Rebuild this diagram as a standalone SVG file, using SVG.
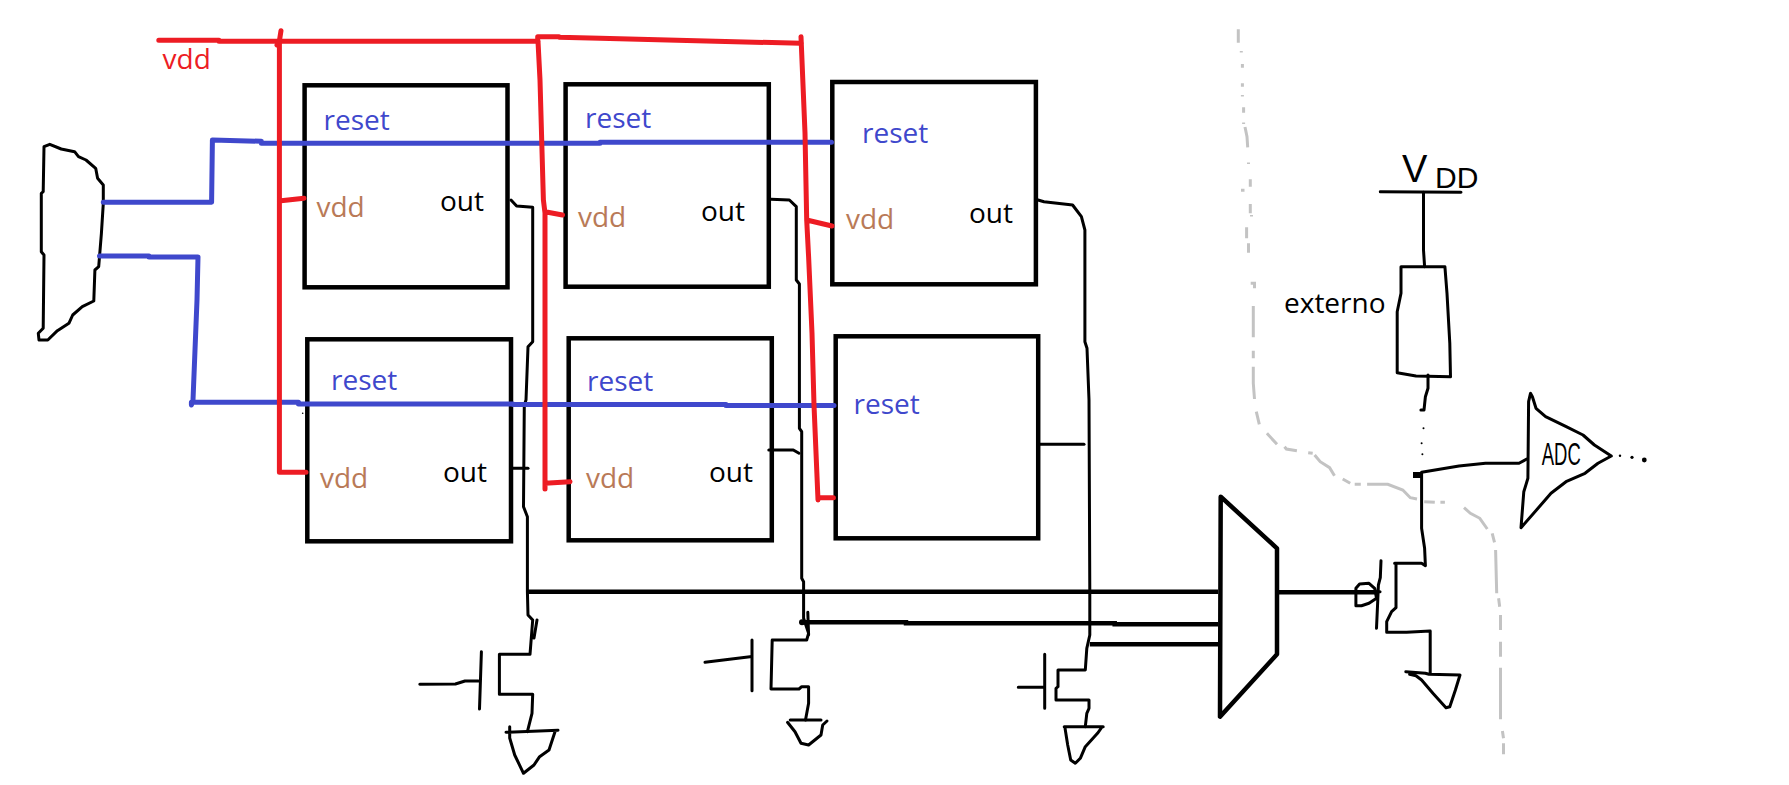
<svg xmlns="http://www.w3.org/2000/svg" width="1789" height="785" viewBox="0 0 1789 785">
<style>
text{font-family:"Open Sans","Noto Sans",sans-serif;font-size:28px}
.r{fill:#3f48cc}.v{fill:#b97a57}.o{fill:#000}.vr{fill:#ed1c24}
.box{fill:none;stroke:#000;stroke-width:4.5}
.th{fill:none;stroke:#000;stroke-width:3;stroke-linejoin:round;stroke-linecap:round}
.tk{fill:none;stroke:#000;stroke-width:4.5}
.red{fill:none;stroke:#ed1c24;stroke-width:5;stroke-linejoin:round;stroke-linecap:round}
.blue{fill:none;stroke:#3f48cc;stroke-width:5;stroke-linejoin:round;stroke-linecap:round}
.gr{fill:none;stroke:#c3c3c3;stroke-width:3}
.hand{font-family:"Liberation Sans",sans-serif;fill:#000}
</style>
<rect width="1789" height="785" fill="#fff"/>

<g id="boundary" class="gr">
<path d="M1238.3 29.3V42.7M1241.3 51V52.5M1242.4 64V67.7M1242.4 83.3V86.7M1242.4 95V96.5M1243.6 107.3V112.7M1243.6 122.6V124M1245 127L1247 136.7L1247.7 147.3M1248.5 162.6V164M1250.3 179.3V186.7M1241 190.3H1244.5M1250.3 204V213.3M1251.5 215V216.5M1246.6 227.3V238.3M1248.5 243.3V252.7M1250.7 283.3H1254.5V288.3M1253.3 306V337.3M1253.3 350.7V358.3M1253.3 366.7V383.3L1254.5 399M1256.3 411.7L1259.3 424.3M1266.9 433.3L1277 444.3M1284.5 446.7L1286.4 449L1296.9 450.7M1308.2 452.7L1312.7 453.3M1314.6 455L1320.2 461.7L1329.6 467.7L1334.5 475.7M1342.7 479L1350.2 483.3M1354.7 484.3H1360.8M1367.1 484.3H1387.8L1402.8 490L1410.3 497.7L1417 499M1424.2 501.7L1434.8 502.3M1440.4 502.3H1444.9M1464 507.7L1470.4 513.3L1479.8 518.3L1487.3 529M1492.2 533.3L1494.5 542.3M1495.6 550L1496.7 593.3M1498.6 598.3L1499.7 606.7M1500.5 615V630M1500.5 641.7V656.7M1500.5 667.7V719.3M1502.4 731L1503.5 738.3M1503.5 743.3V754.3"/>
</g>

<g id="decoder">
<path class="th" d="M49.8 144.3L44 146.7L43.2 191.7L41.3 193.3V251.7L44 255L43.2 328.3L38.3 333.3L39 340H47.8L57.4 330.7L68.9 323.3L72.7 315L82.3 306.7L93.8 301L94.9 270L98.7 266.7L101.4 233.3L103.3 203.3V185L97.6 178.3L95.7 168.3L86 160L78.5 156.7L74.6 151.7L61.2 149Z"/>
</g>

<g id="cell-1">
<rect class="box" x="304.6" y="85.3" width="202.9" height="202"/>
<text class="r" x="323.5" y="130">reset</text><text class="v" x="316.5" y="217">vdd</text><text class="o" x="440" y="211">out</text>
</g>
<g id="cell-2">
<rect class="box" x="565.6" y="84.3" width="203.2" height="202.4"/>
<text class="r" x="585" y="128">reset</text><text class="v" x="578" y="227">vdd</text><text class="o" x="701" y="221">out</text>
</g>
<g id="cell-3">
<rect class="box" x="832.3" y="82" width="203.6" height="202.3"/>
<text class="r" x="862" y="143">reset</text><text class="v" x="846" y="228.5">vdd</text><text class="o" x="969" y="223">out</text>
</g>
<g id="cell-4">
<rect class="box" x="307.3" y="339.3" width="203.7" height="202"/>
<text class="r" x="331" y="390">reset</text><text class="v" x="320" y="487.5">vdd</text><text class="o" x="443" y="482">out</text>
</g>
<g id="cell-5">
<rect class="box" x="568.7" y="338.3" width="203.1" height="202"/>
<text class="r" x="587" y="391">reset</text><text class="v" x="586" y="487.5">vdd</text><text class="o" x="709" y="482">out</text>
</g>
<g id="cell-6">
<rect class="box" x="835.7" y="336.3" width="202.5" height="202"/>
<text class="r" x="853.5" y="414">reset</text>
</g>

<g id="transistor-1">
<path class="th" d="M481.4 651.7L479.5 709M419.8 684.3L455.4 684L465 681L478.4 681"/>
</g>
<g id="ground-1">
<path class="th" d="M506 732.3L558 730.3M509.7 726.7V738L514.7 755L523.5 773.3L534 765L539.6 756.7L549 750L555 731.7"/>
</g>
<g id="transistor-2">
<path class="th" d="M752 640V690.7M705 662.3L750 656.7"/>
</g>
<g id="ground-2">
<path class="th" d="M790.2 720H821M787.5 722.3L795 731.7L801 743.3L808.6 745L821 735L822.7 725L827 721"/>
</g>
<g id="transistor-3">
<path class="th" d="M1044.7 654.3V708.3M1018.3 687.3H1044"/>
</g>
<g id="ground-3">
<path class="th" d="M1064.2 726.7H1103.2M1065 728L1067.7 745L1070.7 760L1075.3 763.3L1080.3 758.3L1085.3 746.7L1097.5 733.3L1102 727"/>
</g>

<g id="mux">
<path fill="none" stroke="#000" stroke-width="4.5" stroke-linejoin="round" d="M1220.7 496.7L1277 548.3V654.3L1220 716.7Z"/>
</g>

<g id="transistor-4">
<path class="th" d="M1355.9 605.7V588.3L1359.6 584L1369 583.3L1374.7 588.3L1376.5 598.3L1369 603.3L1361.5 605.7ZM1381 560.7L1380.3 577.7L1378.4 585L1377.7 601.7L1376.5 628.3"/>
</g>
<g id="ground-4">
<path class="th" d="M1405.8 671.7L1425.4 673.3L1429 674.3L1460 675L1455.4 690L1449.8 706.7L1446 707.7L1432.9 693.3L1421.6 680L1416 675.7L1409.6 674.3"/>
</g>
<g id="resistor">
<path class="th" d="M1401 266.7H1444.9L1447 293.3L1449.8 343.3L1450.5 376.7L1416 376L1397.2 372.7V311.7L1401 293.3Z"/>
<text x="1284" y="312.5" class="o">externo</text>
</g>
<g id="vdd-rail">
<path class="th" d="M1380.3 191.7L1461 192.3"/>
<text class="hand" x="1402" y="182" style="font-size:38px">V<tspan x="1435" y="188" style="font-size:30px">DD</tspan></text>
</g>
<g id="adc">
<path class="th" d="M1530.5 393.3L1528.6 401.7L1527.9 478.3L1523.8 491.7L1521 527.7L1538 508.3L1551 493.3L1566 481.7L1585 473.3L1598 463.3L1611.3 456L1594.4 445L1583 435L1566.2 426.7L1545.6 416.7L1536 408.3L1532.4 396.7Z"/>
<text class="hand" x="1541.8" y="465" style="font-size:32px" textLength="39" lengthAdjust="spacingAndGlyphs">ADC</text>
</g>
<text class="vr" x="162.6" y="68.5">vdd</text>

<g id="connectors">
<g id="wires-signal">
<path class="th" d="M511 200L516.6 206L532.7 207.3V341.7L528 346.7L526 400L524.3 405L523.5 506.7L527.4 516.7V591.7L528 615L532.7 620L530 654.3H499.4V694.3H532.7L532 713.3L527.4 731.7M537 620L534 638"/>
<path class="th" d="M512.8 468.3H528"/>
<path class="th" d="M771 199.3L789.4 200L796.3 206.7V280L799.4 284V428.3L801.7 431.7V578.3L803.6 581.7V618.3L808.6 633.3L806.7 640H772.2L771 689H799L801.7 686.7H808.6V703.3L805.5 720M807.8 612.3L808.6 635"/>
<path class="th" d="M768.8 450H793.3L799 453.3"/>
<path class="th" d="M1038 200L1044 201.7L1072.6 205L1081.4 216.7L1084.9 230V341.7L1087 348.3L1089 400L1089.8 591.7V635L1086.8 648.3L1085.3 670H1058V686.7L1056 688.3V700H1089V708.3L1086.8 713.3L1085.3 726.7"/>
<path class="th" d="M1040 444.3H1084"/>
<path class="th" d="M1380 591.7H1376"/>
<path class="th" d="M1421.6 473.3V528.3L1424.6 548.3L1425.4 565.7L1421.6 563.3H1394.6L1396 563.3V607.7L1391.6 611.7L1386.7 621.7V632.3H1406.6L1430.2 631V673.3"/>
<path class="th" d="M1423.5 192.3V250L1424.6 266.7M1428 375V388.3L1425.4 396.7L1424 410H1420.9"/>
<path class="th" d="M1421.6 472.3L1459 466L1485.5 463.3H1519L1526.8 459"/>
<path fill="none" stroke="#000" stroke-width="6" d="M1413 475H1422"/>
</g>
<g id="wires-bus">
<path class="tk" d="M527.4 591.7H1218"/>
<path class="tk" d="M802 622.3H906V623.3H1114.7V624.3H1218"/>
<path class="tk" d="M1089.8 644.3H1218"/>
<path class="tk" d="M1277 592.3H1376"/>
</g>
<g fill="#000">
<circle cx="1423.5" cy="428.3" r="1"/><circle cx="1421.6" cy="443.3" r="1"/><circle cx="1422.4" cy="454.3" r="1"/>
<circle cx="1620" cy="455.7" r="1.2"/><circle cx="1632" cy="457.3" r="1.6"/><circle cx="1644.3" cy="460" r="2.4"/>
<circle cx="802" cy="622.3" r="3"/>
<circle cx="302.7" cy="413.3" r="0.8"/>
</g>
<g id="wires-reset">
<path class="blue" d="M103.3 202.3H211.6L212.4 140L261.4 141.3V143.3H600V142.3H831.5"/>
<path class="blue" d="M99.5 256L149 256V257H198L197 300L193 400L191.4 405V402.3H298.5V404H513V404.5H726V405.5H834"/>
</g>
<g id="wires-vdd">
<path class="red" d="M158.8 40.3H219V41.3H537.7V36.7H559V37.3L600 38.3L801 43.3"/>
<path class="red" d="M281 30.7L279.4 41L277 45M279.4 41V472.3H306M281 200.7L304 198.3"/>
<path class="red" d="M538 41.3L540 80L541.5 133L543.4 200L545 213V489M545 211.7L562.5 215M545 483.3L570 481.7"/>
<path class="red" d="M801 36.7L805 133L806.7 220L808.6 256.7L812 333L814 405L818 500M818 497.7H833.4M806.7 220L832 226"/>
</g>
</g>
</svg>
